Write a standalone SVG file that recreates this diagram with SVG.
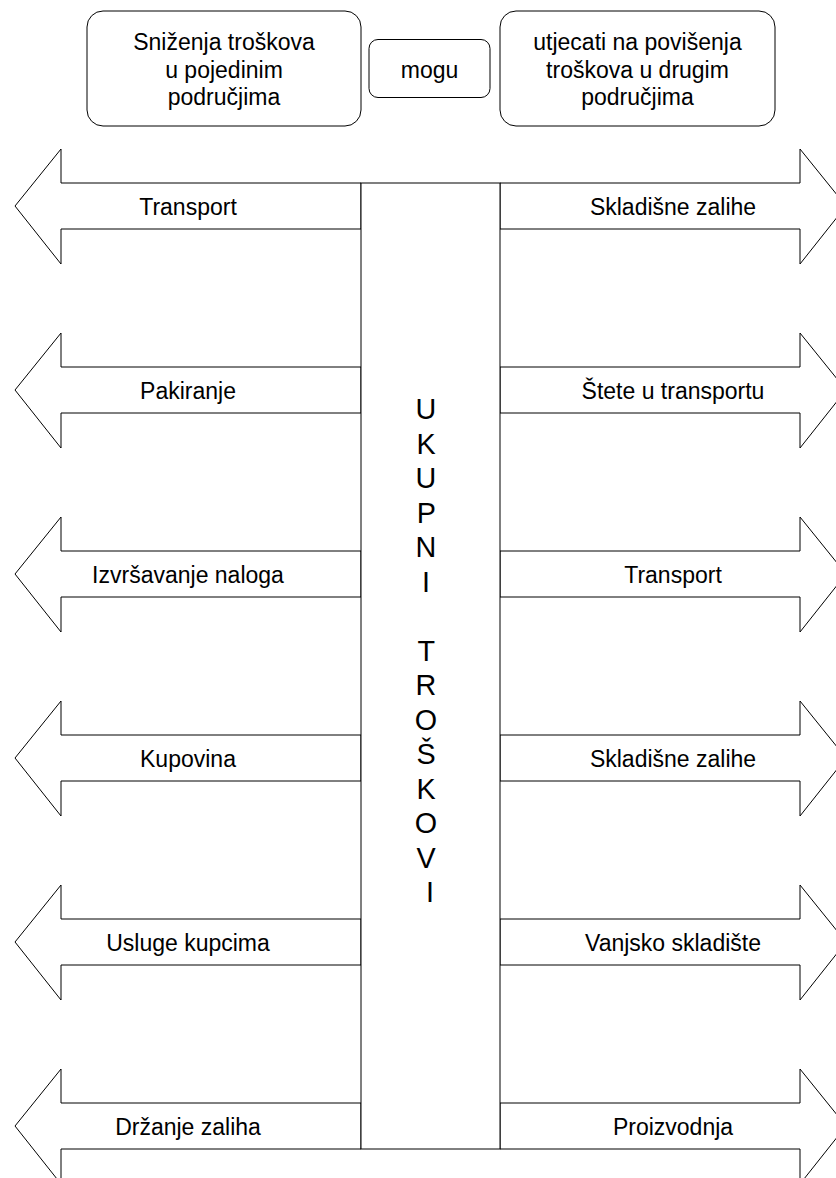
<svg xmlns="http://www.w3.org/2000/svg" xmlns:xlink="http://www.w3.org/1999/xlink" width="836" height="1178" viewBox="0 0 836 1178">
<style>
.shape{fill:#ffffff;stroke:#000000;stroke-width:1}
.lbl{font-family:"Liberation Sans",Arial,sans-serif;font-size:23px;fill:#000000;text-anchor:middle}
.big{font-family:"Liberation Sans",Arial,sans-serif;font-size:28.75px;fill:#000000;text-anchor:middle}
</style>
<defs>
<path id="arrL" d="M15,0 L61,-57 L61,-23 L361,-23 L361,23 L61,23 L61,58 Z"/>
<path id="arrR" d="M500,-23 L800,-23 L800,-57 L846,0 L800,58 L800,23 L500,23 Z"/>
</defs>
<rect width="836" height="1178" fill="#ffffff"/>
<g id="box-snizenja">
<rect class="shape" x="87" y="11" width="274" height="115" rx="16" ry="16"/>
<text class="lbl" x="224" y="50">Sniženja troškova</text>
<text class="lbl" x="224" y="77.6">u pojedinim</text>
<text class="lbl" x="224" y="105.2">područjima</text>
</g>
<g id="box-mogu">
<rect class="shape" x="369" y="39.5" width="121" height="58" rx="9" ry="9"/>
<text class="lbl" x="429.5" y="77.5">mogu</text>
</g>
<g id="box-utjecati">
<rect class="shape" x="500" y="11" width="275" height="115" rx="16" ry="16"/>
<text class="lbl" x="637.5" y="50">utjecati na povišenja</text>
<text class="lbl" x="637.5" y="77.6">troškova u drugim</text>
<text class="lbl" x="637.5" y="105.2">područjima</text>
</g>
<g id="left-1" transform="translate(0,206)"><use xlink:href="#arrL" class="shape"/><text class="lbl" x="188" y="9">Transport</text></g>
<g id="left-2" transform="translate(0,390)"><use xlink:href="#arrL" class="shape"/><text class="lbl" x="188" y="9">Pakiranje</text></g>
<g id="left-3" transform="translate(0,574)"><use xlink:href="#arrL" class="shape"/><text class="lbl" x="188" y="9">Izvršavanje naloga</text></g>
<g id="left-4" transform="translate(0,758)"><use xlink:href="#arrL" class="shape"/><text class="lbl" x="188" y="9">Kupovina</text></g>
<g id="left-5" transform="translate(0,942)"><use xlink:href="#arrL" class="shape"/><text class="lbl" x="188" y="9">Usluge kupcima</text></g>
<g id="left-6" transform="translate(0,1126)"><use xlink:href="#arrL" class="shape"/><text class="lbl" x="188" y="9">Držanje zaliha</text></g>
<g id="right-1" transform="translate(0,206)"><use xlink:href="#arrR" class="shape"/><text class="lbl" x="673" y="9">Skladišne zalihe</text></g>
<g id="right-2" transform="translate(0,390)"><use xlink:href="#arrR" class="shape"/><text class="lbl" x="673" y="9">Štete u transportu</text></g>
<g id="right-3" transform="translate(0,574)"><use xlink:href="#arrR" class="shape"/><text class="lbl" x="673" y="9">Transport</text></g>
<g id="right-4" transform="translate(0,758)"><use xlink:href="#arrR" class="shape"/><text class="lbl" x="673" y="9">Skladišne zalihe</text></g>
<g id="right-5" transform="translate(0,942)"><use xlink:href="#arrR" class="shape"/><text class="lbl" x="673" y="9">Vanjsko skladište</text></g>
<g id="right-6" transform="translate(0,1126)"><use xlink:href="#arrR" class="shape"/><text class="lbl" x="673" y="9">Proizvodnja</text></g>
<g id="ukupni-troskovi">
<rect class="shape" x="361" y="183" width="139" height="966"/>
<text class="big">
<tspan x="430" y="419">U</tspan>
<tspan x="430" dy="34.5">K</tspan>
<tspan x="430" dy="34.5">U</tspan>
<tspan x="430" dy="34.5">P</tspan>
<tspan x="430" dy="34.5">N</tspan>
<tspan x="430" dy="34.5">I</tspan>
<tspan x="430" dy="69">T</tspan>
<tspan x="430" dy="34.5">R</tspan>
<tspan x="430" dy="34.5">O</tspan>
<tspan x="430" dy="34.5">Š</tspan>
<tspan x="430" dy="34.5">K</tspan>
<tspan x="430" dy="34.5">O</tspan>
<tspan x="430" dy="34.5">V</tspan>
<tspan x="430" dy="34.5">I</tspan>
</text>
</g>
<g id="connectors"></g>
</svg>
